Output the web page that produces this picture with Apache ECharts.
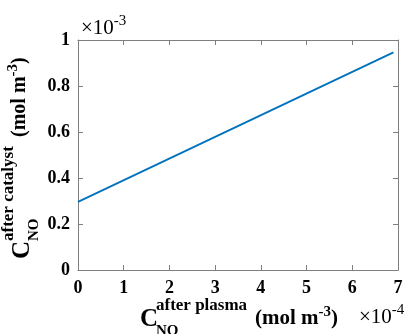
<!DOCTYPE html>
<html>
<head>
<meta charset="utf-8">
<script src="https://cdn.jsdelivr.net/npm/echarts@6/dist/echarts.min.js"></script>
<style>
  html, body { margin: 0; padding: 0; background: #fff; }
  #chart { width: 408px; height: 334px; }
</style>
</head>
<body>
<div id="chart"></div>
<script>
// x in units of 1e-4 mol m^-3, y in units of 1e-3 mol m^-3
const xVals = [0, 6.9];
const yVals = [0.296, 0.946];
const xTicks = { min: 0, max: 7, interval: 1 };
const yTicks = { min: 0, max: 1, interval: 0.2 };

const font = 'Liberation Serif';
const axisGray = '#7f7f7f';
const lineBlue = '#0072bd';

const chart = echarts.init(document.getElementById('chart'));

const tickStyle = { show: true, inside: true, length: 5, lineStyle: { color: axisGray } };
const lineStyleAxis = { show: true, onZero: false, lineStyle: { color: axisGray, width: 1 } };
const labelStyle = { color: '#000', fontFamily: font, fontWeight: 'bold', fontSize: 18 };

// helper for text styles
const txt = (text, size, weight, extra) => Object.assign({
  text: text, fontSize: size, fontWeight: weight, fontFamily: font, fill: '#000',
  align: 'left', verticalAlign: 'middle'
}, extra || {});
// main text + raised exponent, both as rich fragments
const powRich = (size, supSize, weight) => ({
  m: { fontSize: size, fontWeight: weight, fontFamily: font, color: '#000' },
  s: { fontSize: supSize, fontWeight: weight, fontFamily: font, color: '#000', padding: [0, 0, 13, 0] }
});

const option = {
  animation: false,
  grid: { left: 78, right: 10, top: 40, bottom: 64, outerBoundsMode: 'none' },
  xAxis: [
    {
      type: 'value', ...xTicks,
      axisLine: lineStyleAxis, axisTick: tickStyle,
      axisLabel: { ...labelStyle, margin: 9 },
      splitLine: { show: false }
    },
    {
      type: 'value', position: 'top', ...xTicks,
      axisLine: lineStyleAxis, axisTick: tickStyle,
      axisLabel: { show: false }, splitLine: { show: false }
    }
  ],
  yAxis: [
    {
      type: 'value', ...yTicks,
      axisLine: lineStyleAxis, axisTick: tickStyle,
      axisLabel: { ...labelStyle, margin: 8, formatter: v => (v === 0 || v === 1) ? String(v) : v.toFixed(1) },
      splitLine: { show: false }
    },
    {
      type: 'value', position: 'right', ...yTicks,
      axisLine: lineStyleAxis, axisTick: tickStyle,
      axisLabel: { show: false }, splitLine: { show: false }
    }
  ],
  series: [
    {
      type: 'line',
      data: xVals.map((x, i) => [x, yVals[i]]),
      showSymbol: false,
      lineStyle: { color: lineBlue, width: 1.8 }
    }
  ],
  graphic: [
    // x axis title
    { type: 'text', x: 149, y: 320, style: txt('C', 25, 'bold', { align: 'center' }) },
    { type: 'text', x: 156, y: 306, style: txt('after plasma', 17, 'bold') },
    { type: 'text', x: 156, y: 331, style: txt('NO', 15, 'bold') },
    { type: 'text', x: 255, y: 319, style: txt('{m|(mol m}{s|-3}{m|)}', 21, 'bold', { rich: powRich(21, 15, 'bold') }) },
    { type: 'text', x: 359, y: 317, style: txt('{m|×10}{s|-4}', 21, 'normal', { rich: powRich(21, 15, 'normal') }) },
    // x10^-3 multiplier at top
    { type: 'text', x: 81, y: 28, style: txt('{m|×10}{s|-3}', 21, 'normal', { rich: powRich(21, 15, 'normal') }) },
    // y axis title, rotated
    {
      type: 'group', x: 23, y: 250, rotation: Math.PI / 2,
      children: [
        { type: 'text', x: 0, y: 0, style: txt('C', 25, 'bold', { align: 'center' }) },
        { type: 'text', x: 9, y: -14, style: txt('after catalyst', 17, 'bold') },
        { type: 'text', x: 9, y: 11, style: txt('NO', 15, 'bold') },
        { type: 'text', x: 113, y: -3, style: txt('{m|(mol m}{s|-3}{m|)}', 20, 'bold', { rich: powRich(20, 15, 'bold') }) }
      ]
    }
  ]
};

chart.setOption(option);
window.addEventListener('resize', () => chart.resize());
</script>
</body>
</html>
